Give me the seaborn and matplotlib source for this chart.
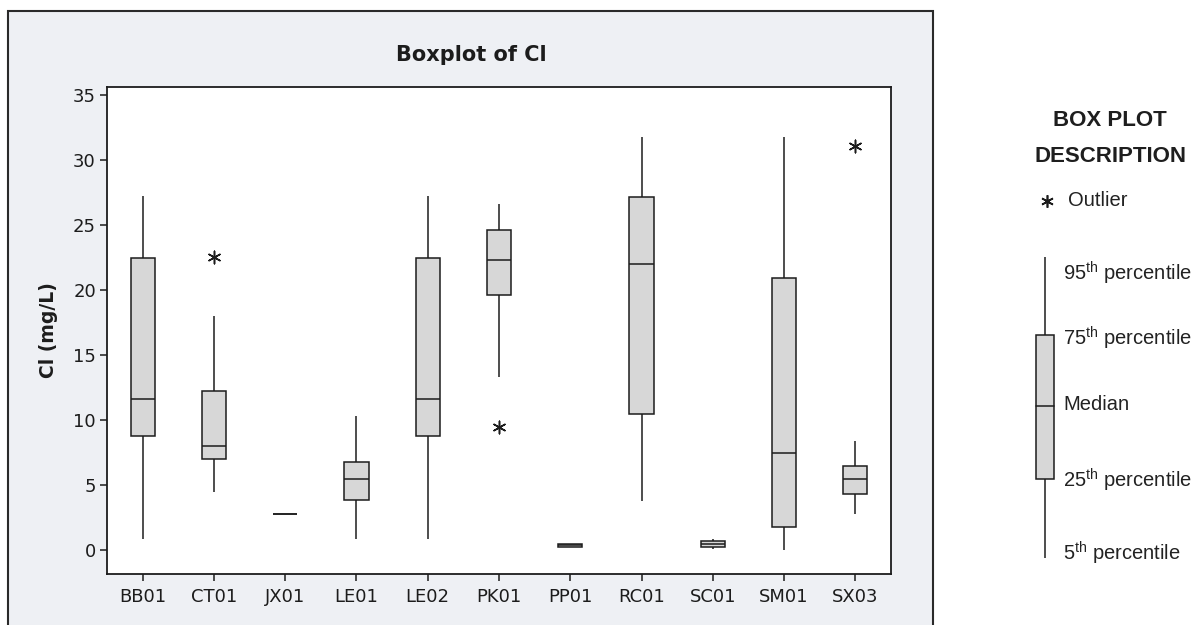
import matplotlib
matplotlib.use("Agg")
import matplotlib.pyplot as plt
from matplotlib.patches import Rectangle
import pandas as pd
import seaborn as sns

# Chloride (mg/L) by site: 5th/25th/50th/75th/95th percentiles
sites = ["BB01", "CT01", "JX01", "LE01", "LE02", "PK01",
         "PP01", "RC01", "SC01", "SM01", "SX03"]
p05 = [0.85, 4.45, 2.72, 0.85, 0.85, 13.3, 0.22, 3.75, 0.02, 0.0, 2.75]
p25 = [8.70, 6.95, 2.72, 3.80, 8.70, 19.6, 0.22, 10.45, 0.18, 1.70, 4.25]
p50 = [11.6, 8.00, 2.72, 5.45, 11.6, 22.3, 0.33, 22.0, 0.43, 7.45, 5.40]
p75 = [22.4, 12.2, 2.72, 6.70, 22.4, 24.6, 0.45, 27.1, 0.68, 20.9, 6.40]
p95 = [27.2, 18.0, 2.72, 10.3, 27.2, 26.6, 0.45, 31.75, 0.85, 31.75, 8.35]

# Outliers beyond the percentile whiskers
outlier_sites = ["CT01", "PK01", "SX03"]
outlier_vals = [22.5, 9.4, 31.05]

y_ticks = [0, 5, 10, 15, 20, 25, 30, 35]

# Long-form table: five summary values per site; with whis=(0, 100)
# the box spans the 25th-75th and the whiskers the 5th-95th values.
rows = []
for i, s in enumerate(sites):
    for v in (p05[i], p25[i], p50[i], p75[i], p95[i]):
        rows.append({"site": s, "cl": v})
df = pd.DataFrame(rows)
out_df = pd.DataFrame({"site": outlier_sites, "cl": outlier_vals})

sns.set_theme(style="ticks")
plt.rcParams["font.family"] = ["DejaVu Sans"]
plt.rcParams["mathtext.fontset"] = "custom"
plt.rcParams["mathtext.rm"] = "Liberation Sans"
plt.rcParams["mathtext.it"] = "Liberation Sans:italic"
plt.rcParams["mathtext.bf"] = "Liberation Sans:bold"

INK = "#1c1c1c"
W, H = 1195, 625
fig = plt.figure(figsize=(W / 100, H / 100), dpi=100, facecolor="white")

# Outer graph frame (drawn beneath the axes)
fig.patches.append(Rectangle((8 / W, -0.1), (933 - 8) / W, 1.1 - 10.7 / H,
                             transform=fig.transFigure, facecolor="#eef0f4",
                             edgecolor="#2a2a2a", linewidth=1.5, zorder=-5))

ax = fig.add_axes([107 / W, (H - 574.3) / H, (891 - 107) / W, (574.3 - 86.7) / H])
ax.set_zorder(2)
ax.set_facecolor("white")

sns.boxplot(data=df, x="site", y="cl", order=sites, whis=(0, 100),
            width=0.34, color="#d7d7d7", saturation=1, linecolor=INK,
            linewidth=1.1, showcaps=False, ax=ax)
sns.stripplot(data=out_df, x="site", y="cl", order=sites, jitter=False,
              marker=(6, 2, 0), size=9, color=INK, linewidth=1.1, ax=ax)

ax.set_xlim(-0.5, len(sites) - 0.5)
ax.set_ylim(-1.9, 35.6)
ax.set_yticks(y_ticks)
ax.set_xlabel("")
ax.set_ylabel("Cl (mg/L)", fontsize=13.5, fontweight="bold", color=INK)
ax.yaxis.set_label_coords(-0.063, 0.5)
ax.tick_params(axis="both", direction="out", length=5, width=1.1,
               colors=INK, labelsize=13)
ax.tick_params(axis="x", pad=5)
ax.tick_params(axis="y", pad=3)
for sp in ax.spines.values():
    sp.set_linewidth(1.3)
    sp.set_color(INK)

fig.text(471 / W, 1 - 55 / H, "Boxplot of Cl", ha="center", va="center",
         fontsize=15, fontweight="bold", color=INK)

# Key explaining the box plot symbols (pixel coordinates of the panel)
lg = fig.add_axes([1000 / W, 0, 195 / W, 1])
lg.set_xlim(1000, 1195)
lg.set_ylim(625, 0)
lg.axis("off")
lg.patch.set_alpha(0)
key_font = ["Liberation Sans", "DejaVu Sans"]
lg.text(1110, 121, "BOX PLOT", ha="center", va="center", fontsize=16,
        fontweight="bold", family=key_font, color="#1e1e1e")
lg.text(1110, 157, "DESCRIPTION", ha="center", va="center", fontsize=16,
        fontweight="bold", family=key_font, color="#1e1e1e")
lg.plot([1047], [201], marker=(6, 2, 0), ms=9, mew=1.2, color=INK)
lg.text(1068, 201, "Outlier", ha="left", va="center", fontsize=14.5,
        family=key_font, color="#222222")
lg.plot([1045, 1045], [257, 558], color=INK, lw=1.1, solid_capstyle="butt")
lg.add_patch(Rectangle((1035.7, 335), 18.6, 144, facecolor="#d7d7d7",
                       edgecolor=INK, linewidth=1.1, zorder=3))
lg.plot([1035.7, 1054.3], [406, 406], color=INK, lw=1.1, zorder=4)
key_labels = [(273, r"95$^{\mathrm{th}}$ percentile"),
              (338, r"75$^{\mathrm{th}}$ percentile"),
              (405, "Median"),
              (480, r"25$^{\mathrm{th}}$ percentile"),
              (553, r"5$^{\mathrm{th}}$ percentile")]
for yy, txt in key_labels:
    lg.text(1063, yy, txt, ha="left", va="center", fontsize=14.5,
            family=key_font, color="#222222")

fig.savefig("out.png", dpi=100, facecolor="white")
